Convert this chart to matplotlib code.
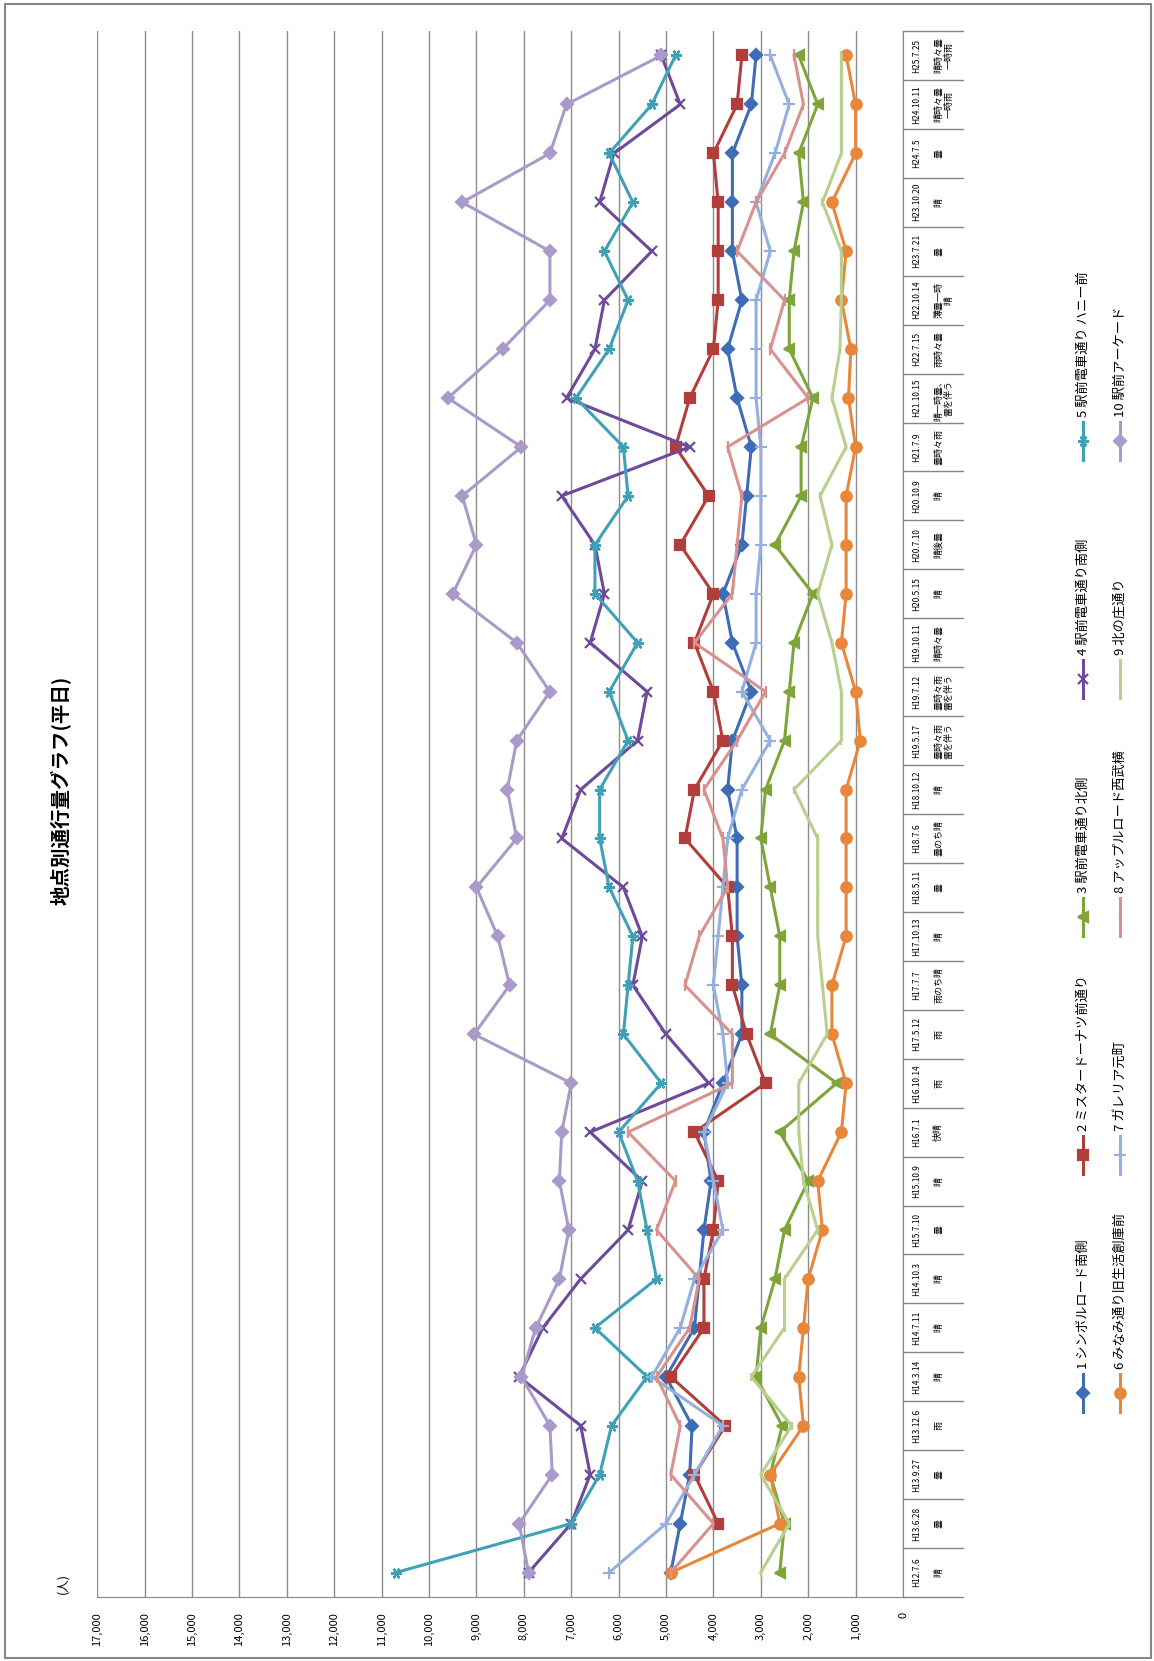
import numpy as np
import matplotlib
matplotlib.use('Agg')
import matplotlib.pyplot as plt
from matplotlib.lines import Line2D
from matplotlib import transforms

plt.rcParams['font.family'] = ['Noto Sans CJK JP', 'DejaVu Sans']

# survey dates (bottom -> top in the rotated chart) and weather
dates = ['H12.7.6', 'H13.6.28', 'H13.9.27', 'H13.12.6', 'H14.3.14', 'H14.7.11',
         'H14.10.3', 'H15.7.10', 'H15.10.9', 'H16.7.1', 'H16.10.14', 'H17.5.12',
         'H17.7.7', 'H17.10.13', 'H18.5.11', 'H18.7.6', 'H18.10.12', 'H19.5.17',
         'H19.7.12', 'H19.10.11', 'H20.5.15', 'H20.7.10', 'H20.10.9', 'H21.7.9',
         'H21.10.15', 'H22.7.15', 'H22.10.14', 'H23.7.21', 'H23.10.20', 'H24.7.5',
         'H24.10.11', 'H25.7.25']
weather = ['晴', '曇', '曇', '雨', '晴', '晴', '晴', '曇', '晴', '快晴', '雨', '雨',
           '雨のち晴', '晴', '曇', '曇のち晴', '晴', '曇時々雨\n雷を伴う', '曇時々雨\n雷を伴う',
           '晴時々曇', '晴', '晴後曇', '晴', '曇時々雨', '晴一時曇、\n雷を伴う', '雨時々曇',
           '薄曇一時\n晴', '曇', '晴', '曇', '晴時々曇\n一時雨', '晴時々曇\n一時雨']

names = ['1 シンボルロード南側', '2 ミスタードーナツ前通り', '3 駅前電車通り北側',
         '4 駅前電車通り南側', '5 駅前電車通り ハニー前', '6 みなみ通り旧生活創庫前',
         '7 ガレリア元町', '8 アップルロード西武横', '9 北の庄通り', '10 駅前アーケード']

s1 = [4900, 4700, 4500, 4450, 5000, 4400, 4300, 4200, 4050, 4200, 3800, 3400, 3400, 3500,
      3500, 3500, 3700, 3600, 3200, 3600, 3800, 3400, 3300, 3200, 3500, 3700, 3400, 3600,
      3600, 3600, 3200, 3100]
s2 = [np.nan, 3900, 4400, 3750, 4900, 4200, 4200, 4000, 3900, 4400, 2900, 3300, 3600, 3600,
      3700, 4600, 4400, 3800, 4000, 4400, 4000, 4700, 4100, 4800, 4500, 4000, 3900, 3900,
      3900, 4000, 3500, 3400]
s3 = [2600, 2500, 2800, 2550, 3100, 3000, 2700, 2500, 2000, 2600, 1400, 2800, 2600, 2600,
      2800, 3000, 2900, 2500, 2400, 2300, 1900, 2700, 2150, 2150, 1900, 2400, 2400, 2300,
      2100, 2200, 1800, 2200]
s4 = [7900, 7000, 6600, 6800, 8100, 7600, 6800, 5800, 5500, 6600, 4100, 5000, 5700, 5500,
      5900, 7200, 6800, 5600, 5400, 6600, 6300, 6500, 7200, 4500, 7100, 6500, 6300, 5300,
      6400, 6100, 4700, 5100]
s5 = [10700, 7000, 6400, 6150, 5400, 6500, 5200, 5400, 5600, 6000, 5100, 5900, 5800, 5700,
      6200, 6400, 6400, 5800, 6200, 5600, 6500, 6500, 5800, 5900, 6900, 6200, 5800, 6300,
      5700, 6200, 5300, 4800]
s6 = [4900, 2600, 2800, 2100, 2200, 2100, 2000, 1700, 1800, 1300, 1200, 1500, 1500, 1200,
      1200, 1200, 1200, 900, 1000, 1300, 1200, 1200, 1200, 1000, 1150, 1100, 1300, 1200,
      1500, 1000, 1000, 1200]
s7 = [6200, 5000, 4400, 3800, 5300, 4700, 4400, 3800, 4000, 4200, 3700, 3800, 4000, 3900,
      3800, 3700, 3400, 2800, 3400, 3100, 3100, 3000, 3000, 3000, 3100, 3100, 3100, 2800,
      3100, 2700, 2400, 2800]
s8 = [4900, 4000, 4900, 4700, 5200, 4500, 4300, 5200, 4800, 5800, 3600, 3600, 4600, 4300,
      3700, 3800, 4200, 3500, 2900, 4400, 3600, 3500, 3400, 3700, 2000, 2800, 2500, 3500,
      3100, 2500, 2100, 2300]
s9 = [3000, 2400, 3000, 2350, 3200, 2500, 2500, 1800, 2100, 2200, 2200, 1600, 1700, 1800,
      1800, 1800, 2300, 1300, 1300, 1500, 1800, 1500, 1750, 1200, 1500, 1330, 1300, 1300,
      1700, 1300, 1300, 1300]
s10 = [7900, 8100, 7400, 7450, 8050, 7750, 7250, 7050, 7250, 7200, 7000, 9050, 8300, 8550,
       9000, 8150, 8350, 8150, 7450, 8150, 9500, 9000, 9300, 8050, 9600, 8450, 7450, 7450,
       9300, 7450, 7100, 5100]

series = [s1, s2, s3, s4, s5, s6, s7, s8, s9, s10]
colors = ['#3E6DB5', '#B23E3B', '#7FA43A', '#6E4A9B', '#3FA1B8',
          '#E8873A', '#95B0DC', '#D9918F', '#B7D08E', '#A99AC9']
markers = ['D', 's', '<', 'x', (6, 2, 90), 'o', '+', '|', '|', 'D']
msizes = [6, 6.5, 7, 7, 8, 7.5, 8, 8, 6, 6]

W, H = 1154, 1661


def fx(x):
    return x / W


def fy(y):
    return 1 - y / H


fig = plt.figure(figsize=(W / 100, H / 100), dpi=100)

# outer frame
fig.add_artist(plt.Rectangle((fx(5), fy(1658)), (1151 - 5) / W, (1658 - 3.5) / H,
                             transform=fig.transFigure, fill=False,
                             edgecolor='#878787', lw=1.5))

ax = fig.add_axes([fx(97.3), fy(1597), (903 - 97.3) / W, (1597 - 31) / H])
cats = np.arange(len(dates))

for s, c, m, ms in zip(series, colors, markers, msizes):
    ax.plot(np.array(s, dtype=float), cats, color=c, lw=2.2, marker=m, markersize=ms,
            markeredgecolor=c, markerfacecolor=c, markeredgewidth=1.6, clip_on=False)

ax.set_xlim(17000, 0)
ax.set_ylim(-0.5, len(dates) - 0.5)
ax.set_xticks(np.arange(0, 17001, 1000))
ax.set_xticklabels(['{:,}'.format(v) for v in range(0, 17001, 1000)])
ax.tick_params(axis='x', length=0, pad=11, labelsize=8, labelrotation=90)
ax.set_yticks([])
ax.grid(axis='x', color='#8C8C8C', lw=1)
ax.set_axisbelow(True)
for side in ['left', 'top']:
    ax.spines[side].set_visible(False)
ax.spines['right'].set_color('#868686')
ax.spines['bottom'].set_color('#868686')

# category table on the right of the plot
trans = transforms.blended_transform_factory(fig.transFigure, ax.transData)
for k in range(len(dates) + 1):
    fig.add_artist(Line2D([fx(903), fx(963)], [k - 0.5, k - 0.5], transform=trans,
                          color='#868686', lw=1))
for i, (d, w) in enumerate(zip(dates, weather)):
    ax.text(fx(917), i, d, transform=trans, rotation=90, ha='center', va='center',
            fontsize=6)
    ax.text(fx(934), i, w, transform=trans, rotation=90, rotation_mode='anchor',
            ha='center', va='top', fontsize=6.5, multialignment='center',
            linespacing=1.15)

# title and unit
fig.text(fx(61), fy(790), '地点別通行量グラフ(平日)', rotation=90, ha='center', va='center',
         fontsize=14, fontweight='bold')
fig.text(fx(63), fy(1583), '(人)', rotation=90, ha='center', va='center', fontsize=9)

# legend (rotated, drawn by hand)
for j, (nm, c, m, ms) in enumerate(zip(names, colors, markers, msizes)):
    x = 1083 if j < 5 else 1120
    y = 1393 - (j % 5) * 238
    fig.add_artist(Line2D([fx(x), fx(x)], [fy(y + 19), fy(y - 19)],
                          transform=fig.transFigure, color=c, lw=2.2))
    fig.add_artist(Line2D([fx(x)], [fy(y)], transform=fig.transFigure, color=c,
                          marker=m, markersize=ms, markeredgecolor=c,
                          markerfacecolor=c, markeredgewidth=1.6))
    fig.text(fx(x), fy(y - 24), nm, rotation=90, rotation_mode='anchor',
             ha='left', va='center', fontsize=9.5)

fig.savefig('out.png', dpi=100)
